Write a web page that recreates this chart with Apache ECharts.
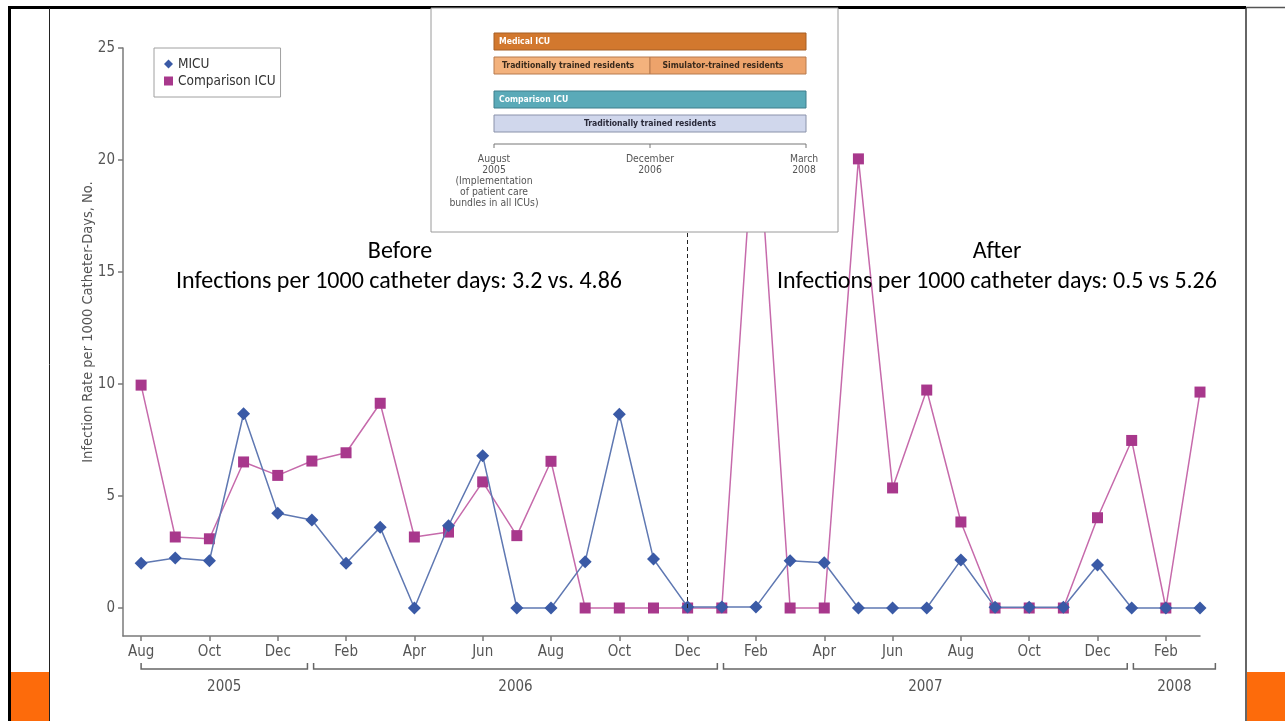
<!DOCTYPE html>
<html>
<head>
<meta charset="utf-8">
<script src="https://cdn.jsdelivr.net/npm/echarts@6/dist/echarts.min.js"></script>
<style>
html,body{margin:0;padding:0;background:#fff;}
#c{width:1285px;height:721px;}
</style>
</head>
<body>
<div id="c"></div>
<script>
// ---- data ----
const months = ['Aug','Sep','Oct','Nov','Dec','Jan','Feb','Mar','Apr','May','Jun','Jul',
                'Aug','Sep','Oct','Nov','Dec','Jan','Feb','Mar','Apr','May','Jun','Jul',
                'Aug','Sep','Oct','Nov','Dec','Jan','Feb','Mar'];
const micu = [2.0,2.23,2.11,8.67,4.23,3.93,2.0,3.6,0,3.67,6.8,0,0,2.07,8.65,2.19,
              0.05,0.05,0.05,2.11,2.02,0,0,0,2.14,0.03,0.03,0.03,1.92,0,0,0];
const comparison = [9.95,3.17,3.09,6.52,5.92,6.56,6.93,9.14,3.17,3.39,5.63,3.23,6.55,0,0,0,
                    0,0,22.7,0,0,20.05,5.36,9.73,3.84,0,0,0,4.03,7.48,0,9.64];
const xTickMonths = [0,2,4,6,8,10,12,14,16,18,20,22,24,26,28,30];
const yTicks = [0,5,10,15,20,25];
const years = [
  {label:'2005', first:0, last:4},
  {label:'2006', first:5, last:16},
  {label:'2007', first:17, last:28},
  {label:'2008', first:29, last:31}
];
const interventionMonth = 16; // December 2006
const seriesNames = ['MICU','Comparison ICU'];
const yAxisTitle = 'Infection Rate per 1000 Catheter-Days, No.';
const beforeText = ['Before','Infections per 1000 catheter days: 3.2 vs. 4.86'];
const afterText = ['After','Infections per 1000 catheter days: 0.5 vs 5.26'];

// ---- styles ----
const NARROW = "'Liberation Sans Narrow','DejaVu Sans Condensed',sans-serif";
const CAL = "Carlito, Lato, 'Open Sans', sans-serif";
const AX = '#7a7a7a';
const LBL = '#555';
const ORANGE = '#fd6b0b';

const chart = echarts.init(document.getElementById('c'), null, {renderer:'canvas'});

function insetElements() {
  const ox = 431, oy = 8;
  const bx = 63, bw = 312, mid = 219;
  const ch = [];
  const R = (x,y,w,h,fill,stroke) => ch.push({type:'rect', shape:{x:ox+x,y:oy+y,width:w,height:h}, style:{fill:fill, stroke:stroke, lineWidth:1}});
  const T = (x,y,text,fill,font,align,va,lh) => ch.push({type:'text', x:ox+x, y:oy+y, style:{text:text, fill:fill, font:font, textAlign:align||'left', textVerticalAlign:va||'middle', lineHeight:lh}});
  const B = "bold 8.6px "+NARROW;
  R(0,0,407,224,'#fff','#9a9a9a');
  R(bx,25,bw,17,'#d2782e','#a65e24');
  T(bx+5,33.5,'Medical ICU','#fff',B);
  R(bx,49,mid-bx,17,'#f3b27d','#b77b4e');
  R(mid,49,bx+bw-mid,17,'#eda36b','#b77b4e');
  T(bx+8,57.5,'Traditionally trained residents','#3a2a1c',B);
  T(292,57.5,'Simulator-trained residents','#3a2a1c',B,'center');
  R(bx,83,bw,17,'#5aaab8','#3f7f8c');
  T(bx+5,91.5,'Comparison ICU','#fff',B);
  R(bx,107,bw,17,'#d0d7ec','#8a92aa');
  T(mid,115.5,'Traditionally trained residents','#2a2a3a',B,'center');
  ch.push({type:'line', shape:{x1:ox+bx,y1:oy+136,x2:ox+bx+bw,y2:oy+136}, style:{stroke:'#777', lineWidth:1}});
  [bx, mid, bx+bw].forEach(x => ch.push({type:'line', shape:{x1:ox+x,y1:oy+136,x2:ox+x,y2:oy+140}, style:{stroke:'#777', lineWidth:1}}));
  const F = "10.3px "+NARROW;
  T(bx,146,'August\n2005\n(Implementation\nof patient care\nbundles in all ICUs)','#555',F,'center','middle',11);
  T(mid,146,'December\n2006','#555',F,'center','top',11);
  T(bx+bw-2,146,'March\n2008','#555',F,'center','top',11);
  ch[ch.length-3].style.textVerticalAlign = 'top';
  ch.forEach((e,i) => { e.z = 100 + i; });
  return ch;
}

const option = {
  backgroundColor:'#fff',
  animation:false,
  grid:{left:123, right:85, top:48, bottom:85},
  legend:{
    data:[{name:seriesNames[0], icon:'diamond'},{name:seriesNames[1], icon:'rect'}],
    orient:'vertical', left:154, top:48,
    borderColor:'#a0a0a0', borderWidth:1,
    padding:[9,5,9,10], itemGap:3, itemWidth:9, itemHeight:9,
    textStyle:{fontSize:13.5, color:'#333', fontFamily:NARROW}
  },
  xAxis:{
    type:'value', min:-0.53, max:31,
    axisLine:{onZero:false, lineStyle:{color:AX, width:1.5}},
    axisTick:{customValues:xTickMonths, length:5, lineStyle:{color:AX, width:1.5}},
    axisLabel:{customValues:xTickMonths, formatter:v => months[v], margin:9, color:LBL, fontSize:15, fontFamily:NARROW},
    splitLine:{show:false}
  },
  yAxis:{
    type:'value', min:-1.25, max:25,
    axisLine:{show:true, onZero:false, lineStyle:{color:AX, width:1.5}},
    axisTick:{show:true, customValues:yTicks, length:5, lineStyle:{color:AX, width:1.5}},
    axisLabel:{customValues:yTicks, margin:8, color:LBL, fontSize:15, fontFamily:NARROW},
    splitLine:{show:false}
  },
  series:[
    {
      name:seriesNames[1], type:'line',
      data:comparison.map((v,i)=>[i,v]),
      symbol:'rect', symbolSize:11,
      itemStyle:{color:'#a8388c'},
      lineStyle:{color:'#c66aab', width:1.5},
      z:2,
      markLine:{
        silent:true, symbol:'none',
        lineStyle:{color:'#222', type:[4,3], width:1},
        label:{show:false},
        data:[[{coord:[interventionMonth,0]},{coord:[interventionMonth,25]}]]
      }
    },
    {
      name:seriesNames[0], type:'line',
      data:micu.map((v,i)=>[i,v]),
      symbol:'diamond', symbolSize:13,
      itemStyle:{color:'#3a5aa6'},
      lineStyle:{color:'#5f78b2', width:1.5},
      z:3
    },
    {
      type:'custom', clip:false, silent:true,
      data:years.map(y=>[y.first, y.last]),
      renderItem:function(params, api){
        const i = params.dataIndex;
        const y = years[i];
        const start = y.first + (i===0 ? 0 : 0.05);
        const end = i===years.length-1 ? y.last + 0.45 : y.last + 0.87;
        const s = api.coord([start, -1.25]);
        const e = api.coord([end, -1.25]);
        const by = s[1] + 33;
        return {type:'group', children:[
          {type:'polyline', shape:{points:[[s[0],by-6],[s[0],by],[e[0],by],[e[0],by-6]]}, style:{stroke:'#666', lineWidth:1.5, fill:null}},
          {type:'text', x:(s[0]+e[0])/2, y:by+18, style:{text:y.label, fill:LBL, font:"15px "+NARROW, textAlign:'center', textVerticalAlign:'middle'}}
        ]};
      }
    }
  ],
  graphic:[
    {type:'rect', z:50, shape:{x:8,y:6,width:1238,height:3}, style:{fill:'#000'}},
    {type:'line', z:50, shape:{x1:1246,y1:7.5,x2:1285,y2:7.5}, style:{stroke:'#555', lineWidth:1.5}},
    {type:'rect', z:50, shape:{x:8,y:6,width:3,height:715}, style:{fill:'#000'}},
    {type:'line', z:50, shape:{x1:49.5,y1:8,x2:49.5,y2:721}, style:{stroke:'#222', lineWidth:1}},
    {type:'line', z:50, shape:{x1:1246,y1:8,x2:1246,y2:721}, style:{stroke:'#333', lineWidth:1.5}},
    {type:'rect', z:50, shape:{x:11,y:672,width:38,height:49}, style:{fill:ORANGE}},
    {type:'rect', z:50, shape:{x:1247,y:672,width:38,height:49}, style:{fill:ORANGE}},
    {type:'text', z:50, x:88, y:322, rotation:Math.PI/2, style:{text:yAxisTitle, fill:LBL, font:"14.5px "+NARROW, textAlign:'center', textVerticalAlign:'middle'}},
    {type:'text', z:60, x:400, y:252, style:{text:beforeText[0], fill:'#000', font:"24px "+CAL, textAlign:'center', textVerticalAlign:'middle'}},
    {type:'text', z:60, x:399, y:282, style:{text:beforeText[1], fill:'#000', font:"24px "+CAL, textAlign:'center', textVerticalAlign:'middle'}},
    {type:'text', z:60, x:997, y:252, style:{text:afterText[0], fill:'#000', font:"24px "+CAL, textAlign:'center', textVerticalAlign:'middle'}},
    {type:'text', z:60, x:997, y:282, style:{text:afterText[1], fill:'#000', font:"24px "+CAL, textAlign:'center', textVerticalAlign:'middle'}}
  ].concat(insetElements())
};
chart.setOption(option);
</script>
</body>
</html>
